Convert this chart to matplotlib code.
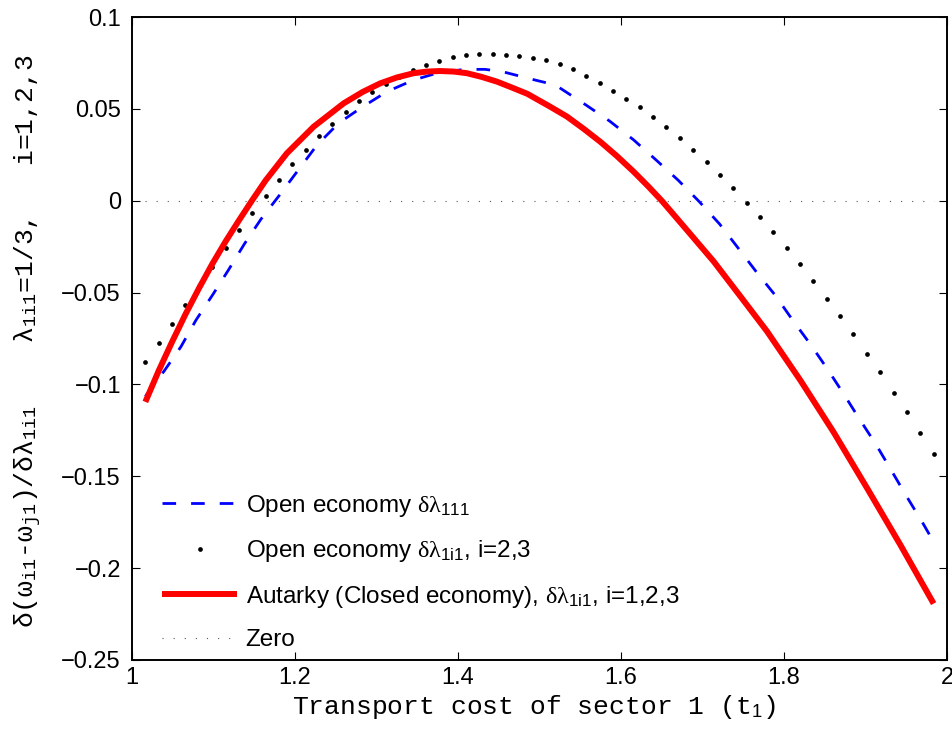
import numpy as np
import matplotlib
matplotlib.use("Agg")
import matplotlib.pyplot as plt

plt.rcParams["font.family"] = ["Liberation Sans", "DejaVu Sans"]
plt.rcParams["mathtext.fontset"] = "custom"
plt.rcParams["mathtext.rm"] = "Liberation Sans"
plt.rcParams["mathtext.it"] = "Liberation Serif"
plt.rcParams["mathtext.tt"] = "Liberation Mono"
plt.rcParams["mathtext.sf"] = "Liberation Sans"
plt.rcParams["mathtext.bf"] = "Liberation Sans:bold"

# transport cost grid of the open-economy (i=2,3) series
t_grid = np.linspace(1, 2, 62)[1:-1]
open_other = [
    -0.0877, -0.0773, -0.0670, -0.0566, -0.0463, -0.0359, -0.0258, -0.0160,
    -0.0065, 0.0026, 0.0112, 0.0198, 0.0278, 0.0350, 0.0420, 0.0485,
    0.0542, 0.0590, 0.0634, 0.0674, 0.0710, 0.0741, 0.0761, 0.0781,
    0.0794, 0.0799, 0.0799, 0.0795, 0.0788, 0.0777, 0.0766, 0.0745,
    0.0717, 0.0678, 0.0641, 0.0599, 0.0556, 0.0509, 0.0458, 0.0400,
    0.0342, 0.0278, 0.0211, 0.0140, 0.0068, -0.0011, -0.0089, -0.0172,
    -0.0259, -0.0346, -0.0439, -0.0534, -0.0630, -0.0728, -0.0832, -0.0935,
    -0.1044, -0.1151, -0.1262, -0.1376,
]

# open economy, own sector (i=1)
t_open_own = [
    1.0164, 1.0396, 1.0600, 1.0785, 1.0990, 1.1185, 1.1378, 1.1583, 1.1804,
    1.2025, 1.2270, 1.2535, 1.2822, 1.3129, 1.3455, 1.3762, 1.4080, 1.4330,
    1.4540, 1.4908, 1.5194, 1.5570, 1.5865, 1.6155, 1.6430, 1.6703, 1.6960,
    1.7210, 1.7431, 1.7660, 1.7893, 1.8106, 1.8323, 1.8528, 1.8728, 1.8924,
    1.9129, 1.9317, 1.9505, 1.9697, 1.9836,
]
open_own = [
    -0.1065, -0.0926, -0.0795, -0.0650, -0.0512, -0.0376, -0.0236, -0.0100,
    0.0027, 0.0158, 0.0303, 0.0422, 0.0509, 0.0594, 0.0657, 0.0697, 0.0715,
    0.0715, 0.0703, 0.0661, 0.0630, 0.0521, 0.0432, 0.0331, 0.0222, 0.0111,
    -0.0005, -0.0127, -0.0254, -0.0387, -0.0515, -0.0650, -0.0781, -0.0913,
    -0.1049, -0.1187, -0.1327, -0.1468, -0.1610, -0.1750, -0.1857,
]

# autarky (closed economy)
t_autarky = [
    1.0164, 1.0328, 1.0492, 1.0656, 1.0820, 1.0984, 1.1148, 1.1311, 1.1475,
    1.1639, 1.1900, 1.2229, 1.2597, 1.2830, 1.3047, 1.3251, 1.3455, 1.3620,
    1.3780, 1.3950, 1.4110, 1.4290, 1.4479, 1.4650, 1.4850, 1.5130, 1.5337,
    1.5540, 1.5746, 1.5950, 1.6155, 1.6330, 1.6500, 1.6790, 1.7136, 1.7464,
    1.7790, 1.8200, 1.8609, 1.9020, 1.9430, 1.9836,
]
autarky = [
    -0.1095, -0.0925, -0.0768, -0.0618, -0.0478, -0.0345, -0.0222, -0.0108,
    0.0003, 0.0110, 0.0258, 0.0403, 0.0530, 0.0592, 0.0639, 0.0671, 0.0694,
    0.0703, 0.0706, 0.0703, 0.0694, 0.0674, 0.0648, 0.0618, 0.0582, 0.0512,
    0.0458, 0.0392, 0.0321, 0.0243, 0.0158, 0.0080, 0.0000, -0.0150, -0.0330,
    -0.0520, -0.0710, -0.0977, -0.1260, -0.1565, -0.1875, -0.2193,
]

x_ticks = [1, 1.2, 1.4, 1.6, 1.8, 2]
y_ticks = [-0.25, -0.2, -0.15, -0.1, -0.05, 0, 0.05, 0.1]

fig = plt.figure(figsize=(9.53, 7.31), dpi=100)
ax = fig.add_axes([132 / 953, 71 / 731, 815 / 953, 643 / 731])

ax.plot(t_open_own, open_own, color="#0000ff", lw=2.0, dashes=(4.9, 5.4),
        dash_capstyle="butt", label=r"Open economy $\delta\lambda_{\mathrm{111}}$")
ax.plot(t_grid, open_other, linestyle="none", marker="o", ms=3.4, mew=0,
        color="black", label=r"Open economy $\delta\lambda_{\mathrm{1i1}}$, i=2,3")
ax.plot(t_autarky, autarky, color="#ff0000", lw=4.3, solid_capstyle="butt",
        solid_joinstyle="round",
        label=r"Autarky (Closed economy), $\delta\lambda_{\mathrm{1i1}}$, i=1,2,3")
ax.plot([t_grid[0], t_grid[-1]], [0, 0], color="#555555", lw=0.8,
        dashes=(1, 9), dash_capstyle="butt", label="Zero")

ax.set_xlim(1, 2)
ax.set_ylim(-0.25, 0.1)
ax.set_xticks(x_ticks)
ax.set_xticklabels([f"{v:g}" for v in x_ticks])
ax.set_yticks(y_ticks)
ax.set_yticklabels([f"{v:g}".replace("-", "\u2212") for v in y_ticks])
ax.tick_params(direction="in", length=6, width=0.8, top=True, right=True,
               labelsize=17)
ax.tick_params(axis="x", pad=5)
ax.tick_params(axis="y", pad=8)
for s in ax.spines.values():
    s.set_linewidth(1.4)

ax.set_xlabel("Transport cost of sector 1 (t$_{1}$)", family="Liberation Mono",
              fontsize=19)
ax.xaxis.set_label_coords((534 - 132) / 815, (660 - 714) / 643)
ax.xaxis.label.set_verticalalignment("baseline")

ax.set_ylabel(r"δ(ω$_{\mathtt{i1}}$-ω$_{\mathtt{j1}}$)/δλ$_{\mathtt{1i1}}$    "
              r"λ$_{\mathtt{1i1}}$=1/3,   i=1,2,3",
              family="Liberation Mono", fontsize=19)
ax.yaxis.set_label_coords((28 - 132) / 815, (660 - 341) / 643)
ax.yaxis.label.set_verticalalignment("center")

ax.legend(loc="upper left", bbox_to_anchor=((162 - 132) / 815, (660 - 493) / 643),
          frameon=False, fontsize=17.5, handlelength=3.1, handletextpad=0.34,
          labelspacing=0.8, borderpad=0, borderaxespad=0)

fig.savefig("out.png", dpi=100)
